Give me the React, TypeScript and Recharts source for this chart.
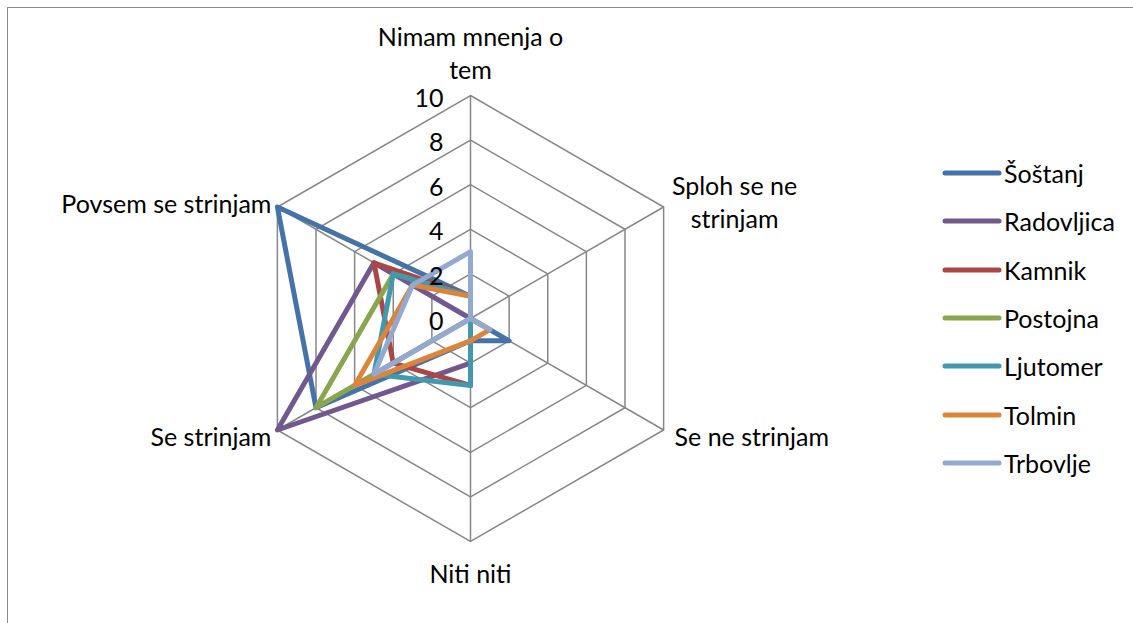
import { RadarChart, Radar, PolarGrid, PolarAngleAxis, PolarRadiusAxis, Legend } from "recharts";

// answer categories, clockwise from the top
const categories = [
  "Nimam mnenja o tem",
  "Sploh se ne strinjam",
  "Se ne strinjam",
  "Niti niti",
  "Se strinjam",
  "Povsem se strinjam",
];

// number of answers per town, same order as categories
const sostanj = [1, 0, 2, 1, 8, 10];
const radovljica = [0, 0, 0, 2, 10, 5];
const kamnik = [1, 0, 0, 3, 4, 5];
const postojna = [1, 0, 0, 0, 8, 4];
const ljutomer = [1, 0, 0, 3, 5, 4];
const tolmin = [1, 0, 1, 1, 6, 3];
const trbovlje = [3, 0, 1, 0, 5, 3];

const radiusTicks = [0, 2, 4, 6, 8, 10];

const series = [
  { name: "Šoštanj", values: sostanj, color: "#4572A7" },
  { name: "Radovljica", values: radovljica, color: "#71588F" },
  { name: "Kamnik", values: kamnik, color: "#AA4643" },
  { name: "Postojna", values: postojna, color: "#89A54E" },
  { name: "Ljutomer", values: ljutomer, color: "#4198AF" },
  { name: "Tolmin", values: tolmin, color: "#DB843D" },
  { name: "Trbovlje", values: trbovlje, color: "#93A9CF" },
];

const data = categories.map((cat, i) => {
  const row: Record<string, string | number> = { cat };
  series.forEach((s) => {
    row[s.name] = s.values[i];
  });
  return row;
});

const FONT = "Lato, 'Open Sans', sans-serif";
const FONT_SIZE = 25;
const LINE_H = 33;
const LINE_W = 5;

const wrap = (text: string, max: number) => {
  const words = text.split(" ");
  const lines: string[] = [];
  let cur = "";
  words.forEach((w) => {
    const next = cur ? cur + " " + w : w;
    if (next.length > max && cur) {
      lines.push(cur);
      cur = w;
    } else {
      cur = next;
    }
  });
  if (cur) lines.push(cur);
  return lines;
};

const AngleTick = (props: any) => {
  const { x, y, payload, textAnchor } = props;
  const sin = Math.sin((payload.coordinate * Math.PI) / 180);
  const text = String(payload.value);

  if (sin > 0.9) {
    // top label sits above the vertex
    const lines = wrap(text, 14);
    return (
      <text x={x} textAnchor="middle" fontFamily={FONT} fontSize={FONT_SIZE} fill="#000">
        {lines.map((l, i) => (
          <tspan key={i} x={x} y={y - 19 - (lines.length - 1 - i) * LINE_H} dominantBaseline="central">
            {l}
          </tspan>
        ))}
      </text>
    );
  }
  if (sin < -0.9) {
    return (
      <text x={x} y={y + 23} textAnchor="middle" dominantBaseline="central" fontFamily={FONT} fontSize={FONT_SIZE} fill="#000">
        {text}
      </text>
    );
  }
  const lines = textAnchor === "end" ? [text] : wrap(text, 14);
  if (lines.length > 1) {
    const cx = x + 64;
    const top = y - 2 - ((lines.length - 1) * LINE_H) / 2;
    return (
      <text textAnchor="middle" fontFamily={FONT} fontSize={FONT_SIZE} fill="#000">
        {lines.map((l, i) => (
          <tspan key={i} x={cx} y={top + i * LINE_H} dominantBaseline="central">
            {l}
          </tspan>
        ))}
      </text>
    );
  }
  const dx = textAnchor === "end" ? 1 : 4;
  const dy = sin > 0 ? 0 : 2;
  return (
    <text x={x + dx} y={y + dy} textAnchor={textAnchor} dominantBaseline="central" fontFamily={FONT} fontSize={FONT_SIZE} fill="#000">
      {text}
    </text>
  );
};

const RadiusTick = (props: any) => {
  const { x, y, payload } = props;
  return (
    <text x={x - 27} y={y + 1} textAnchor="end" dominantBaseline="central" fontFamily={FONT} fontSize={FONT_SIZE} fill="#000">
      {payload.value}
    </text>
  );
};

// outline drawn from the points recharts computes
const outline = (color: string) => (p: any) => (
  <polygon
    points={(p.points || []).map((pt: any) => `${pt.x},${pt.y}`).join(" ")}
    fill="none"
    stroke={color}
    strokeWidth={LINE_W}
    strokeLinejoin="round"
  />
);

const LegendBox = () => (
  <div style={{ fontFamily: FONT, fontSize: FONT_SIZE, color: "#000" }}>
    {series.map((s) => (
      <div key={s.name} style={{ height: 48.3, display: "flex", alignItems: "center" }}>
        <svg width={62} height={10}>
          <line x1={3} y1={5} x2={57} y2={5} stroke={s.color} strokeWidth={5} strokeLinecap="round" />
        </svg>
        <span>{s.name}</span>
      </div>
    ))}
  </div>
);

export default function App() {
  return (
    <div style={{ position: "absolute", left: 0, top: 0, width: 1133, height: 623, background: "#fff" }}>
      <div
        style={{
          position: "absolute",
          left: 7,
          top: 7,
          width: 1126,
          height: 616,
          borderLeft: "1.5px solid #8a8a8a",
          borderTop: "1.5px solid #8a8a8a",
          boxSizing: "border-box",
        }}
      />
      <div style={{ position: "absolute", left: 0, top: 0 }}>
        <RadarChart width={1133} height={623} data={data} cx={470.5} cy={318.5} outerRadius={223} margin={{ top: 0, right: 0, bottom: 0, left: 0 }}>
          <PolarGrid gridType="polygon" stroke="#878787" strokeWidth={1.5} />
          <PolarAngleAxis dataKey="cat" tick={<AngleTick />} tickLine={false} axisLine={false} />
          <PolarRadiusAxis
            angle={90}
            domain={[0, 10]}
            ticks={radiusTicks as any}
            tickCount={radiusTicks.length}
            axisLine={false}
            tickLine={false}
            tick={<RadiusTick />}
          />
          {series.map((s) => (
            <Radar
              key={s.name}
              name={s.name}
              dataKey={s.name}
              stroke={s.color}
              strokeWidth={LINE_W}
              fill="none"
              fillOpacity={0}
              dot={false}
              shape={outline(s.color)}
              isAnimationActive={false}
            />
          ))}
          <Legend content={<LegendBox />} wrapperStyle={{ position: "absolute", left: 942, top: 149, width: 190 }} />
        </RadarChart>
      </div>
    </div>
  );
}
